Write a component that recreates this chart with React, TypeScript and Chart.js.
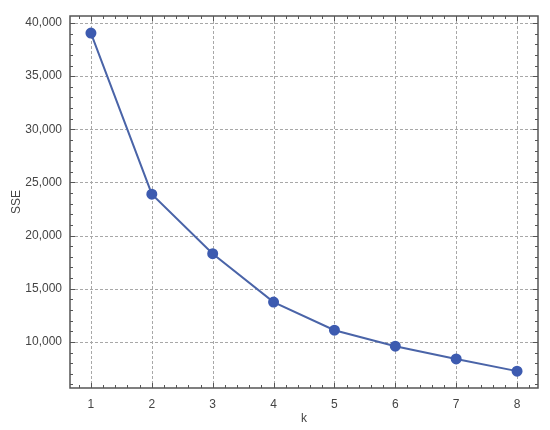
import React, { useEffect, useRef } from "react";
import { Chart, registerables } from "chart.js";
Chart.register(...registerables);

const kValues = [1, 2, 3, 4, 5, 6, 7, 8];
const sseValues = [39050, 23900, 18300, 13750, 11100, 9600, 8400, 7250];
const xTickValues = [1, 2, 3, 4, 5, 6, 7, 8];
const yTickValues = [10000, 15000, 20000, 25000, 30000, 35000, 40000];
const xTitle = "k";
const yTitle = "SSE";

const FONT = "'Liberation Sans', Arial, sans-serif";
const TEXT = "#444";
const FRAME = "#555";

const framePlugin = {
  id: "framePlugin",
  beforeDatasetsDraw(chart: any) {
    const { ctx, chartArea: a, scales } = chart;
    const xs = scales.x, ys = scales.y;
    ctx.save();
    ctx.strokeStyle = "#a8a8a8";
    ctx.lineWidth = 1;
    ctx.setLineDash([3, 2]);
    xTickValues.forEach((v) => {
      const px = Math.round(xs.getPixelForValue(v)) + 0.5;
      ctx.beginPath();
      ctx.moveTo(px, a.top);
      ctx.lineTo(px, a.bottom);
      ctx.stroke();
    });
    yTickValues.forEach((v) => {
      const py = Math.round(ys.getPixelForValue(v)) + 0.5;
      ctx.beginPath();
      ctx.moveTo(a.left, py);
      ctx.lineTo(a.right, py);
      ctx.stroke();
    });
    ctx.restore();
  },
  afterDatasetsDraw(chart: any) {
    const { ctx, chartArea: a, scales } = chart;
    const xs = scales.x, ys = scales.y;
    ctx.save();
    ctx.setLineDash([]);
    ctx.strokeStyle = FRAME;
    ctx.lineWidth = 1.5;
    ctx.strokeRect(a.left, a.top, a.right - a.left, a.bottom - a.top);
    ctx.lineWidth = 1;
    // x ticks (minor every 0.2)
    for (let i = 0; i <= 50; i++) {
      const v = 0 + i * 0.2;
      if (v < xs.min || v > xs.max) continue;
      const major = Math.abs(v - Math.round(v)) < 1e-6;
      const len = major ? 5 : 3;
      const px = Math.round(xs.getPixelForValue(v)) + 0.5;
      ctx.beginPath();
      ctx.moveTo(px, a.bottom);
      ctx.lineTo(px, a.bottom - len);
      ctx.moveTo(px, a.top);
      ctx.lineTo(px, a.top + len);
      ctx.stroke();
    }
    for (let v = 0; v <= 45000; v += 1000) {
      if (v < ys.min || v > ys.max) continue;
      const major = v % 5000 === 0;
      const len = major ? 5 : 3;
      const py = Math.round(ys.getPixelForValue(v)) + 0.5;
      ctx.beginPath();
      ctx.moveTo(a.left, py);
      ctx.lineTo(a.left + len, py);
      ctx.moveTo(a.right, py);
      ctx.lineTo(a.right - len, py);
      ctx.stroke();
    }
    // titles
    ctx.fillStyle = TEXT;
    ctx.font = `12px ${FONT}`;
    ctx.textAlign = "center";
    ctx.textBaseline = "middle";
    ctx.fillText(xTitle, (a.left + a.right) / 2, 419);
    ctx.translate(17, (a.top + a.bottom) / 2);
    ctx.rotate(-Math.PI / 2);
    ctx.fillText(yTitle, 0, 0);
    ctx.restore();
  },
};

export default function App() {
  const ref = useRef<HTMLCanvasElement | null>(null);
  useEffect(() => {
    document.body.style.margin = "0";
    const chart = new Chart(ref.current as HTMLCanvasElement, {
      type: "line",
      data: {
        datasets: [
          {
            data: kValues.map((k, i) => ({ x: k, y: sseValues[i] })),
            borderColor: "#4a64a8",
            backgroundColor: "#3d5bb0",
            pointBackgroundColor: "#3d5bb0",
            pointBorderColor: "#3d5bb0",
            pointRadius: 4.5,
            borderWidth: 2,
            tension: 0,
          },
        ],
      },
      options: {
        animation: false,
        responsive: false,
        maintainAspectRatio: false,
        layout: { padding: { left: 0, top: 16, right: 12, bottom: 0 } },
        plugins: { legend: { display: false }, tooltip: { enabled: false } },
        scales: {
          x: {
            type: "linear",
            min: 0.656,
            max: 8.344,
            afterBuildTicks: (s: any) => {
              s.ticks = xTickValues.map((v) => ({ value: v }));
            },
            afterFit: (s: any) => {
              s.height = 42;
            },
            grid: { display: false, drawTicks: false },
            border: { display: false },
            ticks: {
              padding: 9,
              color: TEXT,
              font: { family: FONT, size: 12 },
              callback: (v: any) => String(v),
            },
          },
          y: {
            type: "linear",
            min: 5664,
            max: 40658,
            afterBuildTicks: (s: any) => {
              s.ticks = yTickValues.map((v) => ({ value: v }));
            },
            afterFit: (s: any) => {
              s.width = 70;
            },
            grid: { display: false, drawTicks: false },
            border: { display: false },
            ticks: {
              padding: 8,
              color: TEXT,
              font: { family: FONT, size: 12 },
              callback: (v: any) => Number(v).toLocaleString("en-US"),
            },
          },
        },
      },
      plugins: [framePlugin],
    });
    return () => chart.destroy();
  }, []);
  return (
    <div style={{ position: "fixed", left: 0, top: 0, width: 550, height: 430, background: "#fff" }}>
      <canvas ref={ref} width={550} height={430} style={{ width: 550, height: 430 }} />
    </div>
  );
}
